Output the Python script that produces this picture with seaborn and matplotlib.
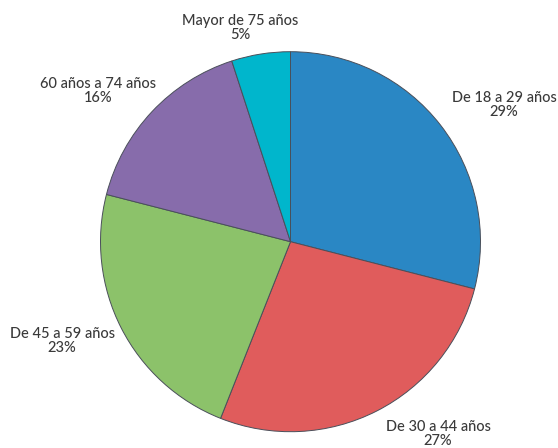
import matplotlib
matplotlib.use("Agg")
import matplotlib.pyplot as plt
import seaborn as sns

sns.set_theme(style="white")
plt.rcParams['font.family'] = ['Lato', 'DejaVu Sans']

categories = ["De 18 a 29 años", "De 30 a 44 años", "De 45 a 59 años",
              "60 años a 74 años", "Mayor de 75 años"]
values = [29, 27, 23, 16, 5]
colors = ["#2a87c4", "#e05c5c", "#8cc26a", "#876cab", "#00b6cc"]

W, H = 558, 448
fig = plt.figure(figsize=(W / 100, H / 100), dpi=100)
ax = fig.add_axes([0, 0, 1, 1])

cx, cy, r = 290.5, H - 241.7, 190
wedges, texts = ax.pie(values, colors=colors, startangle=90, counterclock=False,
                       center=(cx, cy), radius=r, frame=True,
                       labels=[f"{c}\n{v}%" for c, v in zip(categories, values)],
                       wedgeprops=dict(edgecolor="#4a4f5a", linewidth=0.7),
                       textprops=dict(color="#3a3a3a", fontsize=10.5,
                                      fontweight="medium", ha="center",
                                      va="center", linespacing=0.95))
ax.set_xlim(0, W)
ax.set_ylim(0, H)
ax.set_aspect("equal")
ax.axis("off")

label_pos = [(504, 105), (438, 434), (62, 341), (98, 91), (240, 28)]
for t, (x, y) in zip(texts, label_pos):
    t.set_position((x, H - y))
    t.set_ha("center")
    t.set_va("center")

fig.savefig("out.png", dpi=100)
